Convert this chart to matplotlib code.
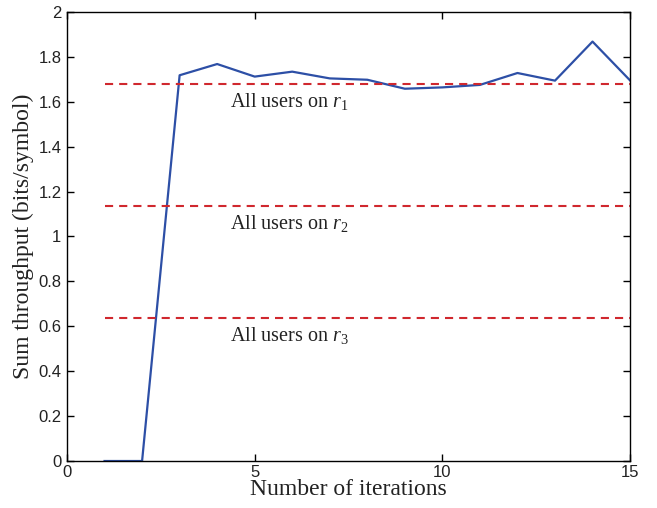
import matplotlib
matplotlib.use("Agg")
import matplotlib.pyplot as plt

plt.rcParams['mathtext.fontset'] = 'custom'
plt.rcParams['mathtext.rm'] = 'Liberation Serif'
plt.rcParams['mathtext.it'] = 'Liberation Serif:italic'

iterations = list(range(1, 16))
throughput = [0, 0, 1.718, 1.768, 1.712, 1.734, 1.704, 1.698, 1.658, 1.664,
              1.675, 1.728, 1.694, 1.868, 1.695]
ref_levels = [1.680, 1.136, 0.637]
ref_labels = ["All users on $r_1$", "All users on $r_2$", "All users on $r_3$"]
xticks = [0, 5, 10, 15]
yticks = [0, 0.2, 0.4, 0.6, 0.8, 1, 1.2, 1.4, 1.6, 1.8, 2]
ytick_labels = ["0", "0.2", "0.4", "0.6", "0.8", "1", "1.2", "1.4", "1.6", "1.8", "2"]

fig = plt.figure(figsize=(6.57, 5.08), dpi=100)
ax = fig.add_axes([0.102, 0.0925, 0.857, 0.884])

ax.plot(iterations, throughput, color='#2d4fa6', lw=1.6)
for lvl, lab in zip(ref_levels, ref_labels):
    ax.plot([iterations[0], iterations[-1]], [lvl, lvl], color='#d0282e', lw=1.5,
            linestyle=(0, (3.9, 2.9)))
    ax.text(4.35, lvl - 0.078, lab, fontsize=14.5, family='Liberation Serif',
            ha='left', va='center', color='#222222')

ax.set_xlim(0, 15)
ax.set_ylim(0, 2)
ax.set_xticks(xticks)
ax.set_xticklabels([str(t) for t in xticks])
ax.set_yticks(yticks)
ax.set_yticklabels(ytick_labels)
ax.tick_params(direction='in', top=True, right=True, length=5, width=1,
               labelsize=12, pad=4, labelcolor='#222222')
ax.tick_params(axis='x', pad=3)
for lab in ax.get_xticklabels() + ax.get_yticklabels():
    lab.set_family('Liberation Sans')
for s in ax.spines.values():
    s.set_linewidth(1)

ax.set_xlabel("Number of iterations", fontsize=17, family='Liberation Serif',
              labelpad=-1, color='#222222')
ax.set_ylabel("Sum throughput (bits/symbol)", fontsize=17, family='Liberation Serif',
              labelpad=3, color='#222222')

fig.savefig("out.png", dpi=100)
